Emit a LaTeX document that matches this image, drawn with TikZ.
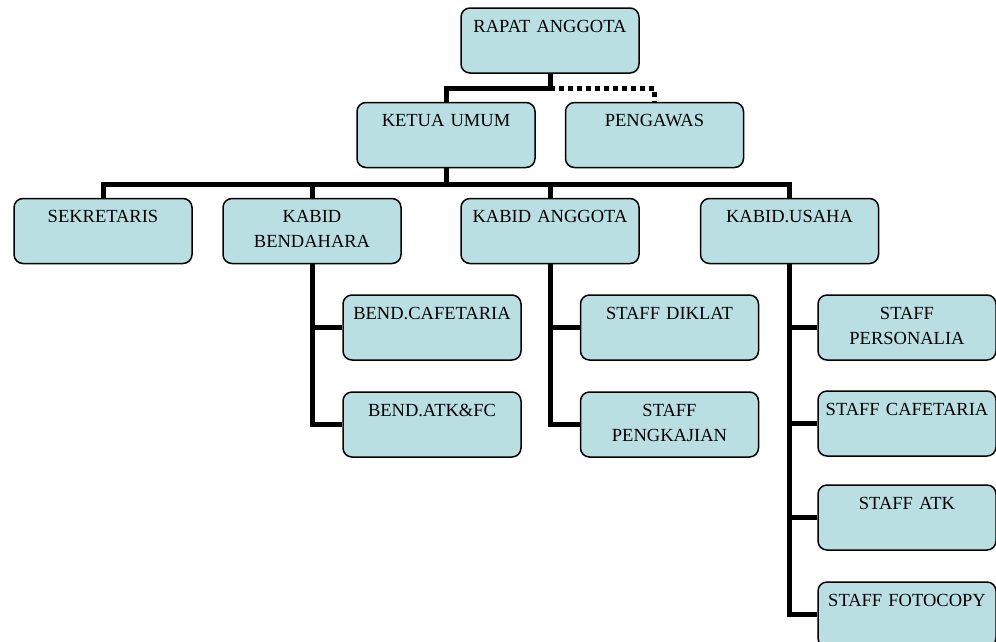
\documentclass[tikz,border=0pt]{standalone}
\usepackage{fontspec}
\setmainfont{Liberation Serif}
\usepackage{tikz}
\definecolor{unitfill}{RGB}{185,223,227}

\begin{document}
\begin{tikzpicture}[x=1pt,y=-1pt,
		unit/.style={draw=black, line width=1.5pt, fill=unitfill, rounded corners=9pt,
			inner sep=0pt, text width=178pt, align=center, text height=24pt, text depth=41pt,
			font=\fontsize{18.5}{25}\selectfont},
		link/.style={line width=5pt, black},
		dotlink/.style={line width=5pt, black, dash pattern=on 4.5pt off 4.5pt}]
				\path[use as bounding box, clip] (0,0) rectangle (996,641);
				\node[unit] (RA) at (550,40.5) {RAPAT ANGGOTA};
				\node[unit] (KU) at (446,135) {KETUA UMUM};
				\node[unit] (PW) at (654.5,135) {PENGAWAS};
				\node[unit] (SK) at (103,231) {SEKRETARIS};
				\node[unit] (KB) at (312,231) {KABID\\BENDAHARA};
				\node[unit] (KA) at (550,231) {KABID ANGGOTA};
				\node[unit] (KS) at (789.5,231) {KABID.USAHA};
				\node[unit] (BC) at (432,327.5) {BEND.CAFETARIA};
				\node[unit] (BA) at (432,424.5) {BEND.ATK\&FC};
				\node[unit] (SD) at (669.5,327.5) {STAFF DIKLAT};
				\node[unit] (SP) at (669.5,424.5) {STAFF\\PENGKAJIAN};
				\node[unit] (PE) at (907,327.5) {STAFF\\PERSONALIA};
				\node[unit] (CA) at (907,423.5) {STAFF CAFETARIA};
				\node[unit] (AT) at (907,517.5) {STAFF ATK};
				\node[unit] (FC) at (907,614.5) {STAFF FOTOCOPY};
				\draw[link] (RA.south) -- ++(0,15) -| (KU.north);
				\draw[dotlink] (RA.south) ++(0,15) -| (PW.north);
				\draw[link] (KU.south) -- ++(0,16) -| (SK.north);
				\draw[link] (KU.south) -- ++(0,16) -| (KB.north);
				\draw[link] (KU.south) -- ++(0,16) -| (KA.north);
				\draw[link] (KU.south) -- ++(0,16) -| (KS.north);
				\draw[link] (KB.south) |- (BC.west);
				\draw[link] (KB.south) |- (BA.west);
				\draw[link] (KA.south) |- (SD.west);
				\draw[link] (KA.south) |- (SP.west);
				\draw[link] (KS.south) |- (PE.west);
				\draw[link] (KS.south) |- (CA.west);
				\draw[link] (KS.south) |- (AT.west);
				\draw[link] (KS.south) |- (FC.west);
			\end{tikzpicture}
\end{document}
